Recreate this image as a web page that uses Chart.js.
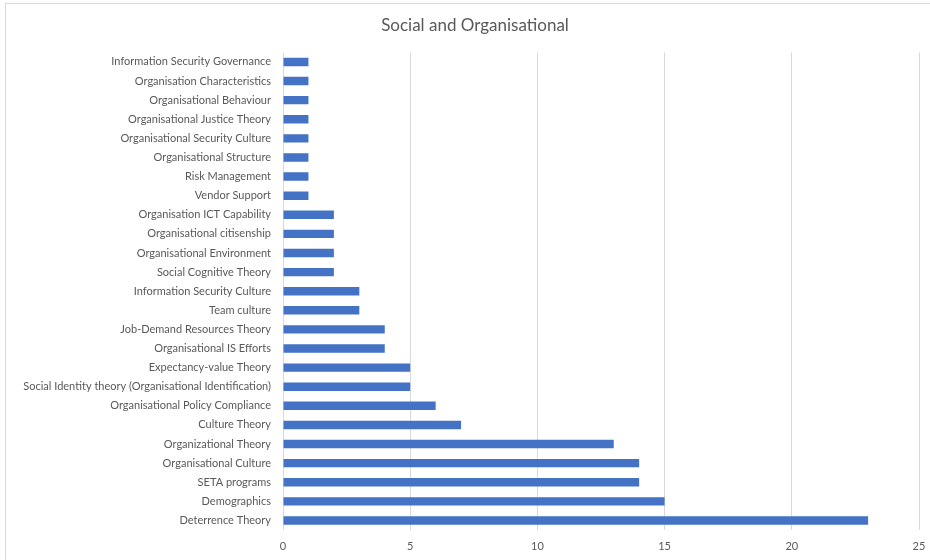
<!DOCTYPE html>
<html>
<head>
<meta charset="utf-8">
<script src="https://cdn.jsdelivr.net/npm/chart.js@4/dist/chart.umd.min.js"></script>
<style>
  body { margin: 0; background: #fff; }
  #wrap { position: relative; width: 930px; height: 560px; }
  #frame { position: absolute; left: 5px; top: 3px; width: 930px; height: 560px;
           border-left: 1px solid #d9d9d9; border-top: 1px solid #d9d9d9; pointer-events: none; }
</style>
</head>
<body>
<div id="wrap">
  <canvas id="chart" width="930" height="560"></canvas>
  <div id="frame"></div>
</div>
<script>
var chartTitle = "Social and Organisational";

// categories, top to bottom
var categories = [
  "Information Security Governance",
  "Organisation Characteristics",
  "Organisational Behaviour",
  "Organisational Justice Theory",
  "Organisational Security Culture",
  "Organisational Structure",
  "Risk Management",
  "Vendor Support",
  "Organisation ICT Capability",
  "Organisational citisenship",
  "Organisational Environment",
  "Social Cognitive Theory",
  "Information Security Culture",
  "Team culture",
  "Job-Demand Resources Theory",
  "Organisational IS Efforts",
  "Expectancy-value Theory",
  "Social Identity theory (Organisational Identification)",
  "Organisational Policy Compliance",
  "Culture Theory",
  "Organizational Theory",
  "Organisational Culture",
  "SETA programs",
  "Demographics",
  "Deterrence Theory"
];

var counts = [1, 1, 1, 1, 1, 1, 1, 1, 2, 2, 2, 2, 3, 3, 4, 4, 5, 5, 6, 7, 13, 14, 14, 15, 23];

var xTicks = [0, 5, 10, 15, 20, 25];

var textGrey = '#595959';
var gridGrey = '#d9d9d9';

// the original chart is wider than the crop, so its title sits a bit right of centre
var shiftTitle = {
  id: 'shiftTitle',
  afterLayout: function (chart) {
    if (chart.titleBlock) chart.titleBlock.left = 31;
  }
};

var chart = new Chart(document.getElementById('chart'), {
  type: 'bar',
  data: {
    labels: categories,
    datasets: [{
      data: counts,
      backgroundColor: '#4472C4',
      categoryPercentage: 1,
      barPercentage: 0.44
    }]
  },
  options: {
    responsive: false,
    animation: false,
    indexAxis: 'y',
    layout: { padding: { top: 4, right: 11, left: 0, bottom: 0 } },
    plugins: {
      legend: { display: false },
      tooltip: { enabled: false },
      title: {
        display: true,
        text: chartTitle,
        color: textGrey,
        font: { family: 'Lato', size: 17, weight: 'normal' },
        padding: { top: 11, bottom: 17 }
      }
    },
    scales: {
      x: {
        min: xTicks[0],
        max: xTicks[xTicks.length - 1],
        afterBuildTicks: function (scale) {
          scale.ticks = xTicks.map(function (v) { return { value: v }; });
        },
        afterFit: function (scale) {
          scale.height = 30;
          scale.paddingLeft = 0;
          scale.paddingRight = 0;
        },
        grid: { color: gridGrey, drawTicks: false },
        border: { display: false },
        ticks: { color: textGrey, padding: 10, font: { family: 'Lato', size: 11 } }
      },
      y: {
        afterFit: function (scale) { scale.width = 283; },
        grid: { display: false },
        border: { display: false },
        ticks: { color: textGrey, padding: 4, autoSkip: false, font: { family: 'Lato', size: 11 } }
      }
    }
  },
  plugins: [shiftTitle]
});
</script>
</body>
</html>
